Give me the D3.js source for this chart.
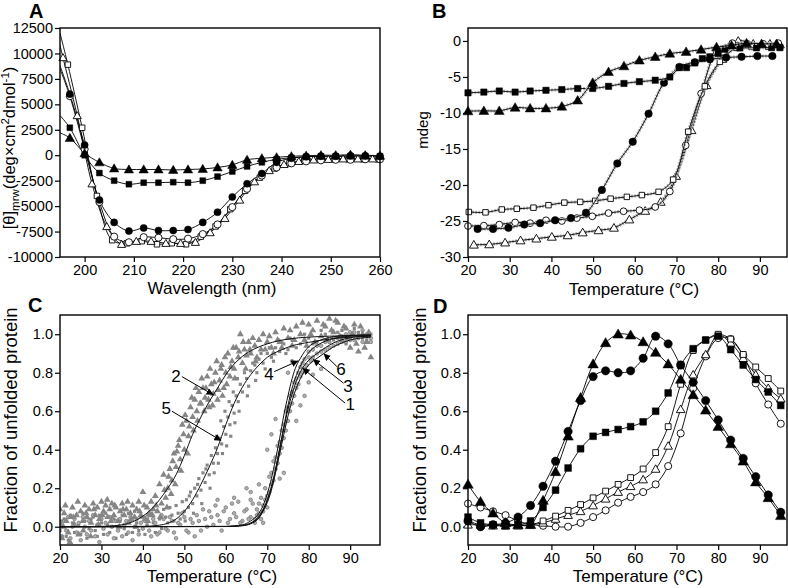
<!DOCTYPE html>
<html><head><meta charset="utf-8">
<script src="https://cdn.jsdelivr.net/npm/d3@7"></script>
<style>
body{margin:0;background:#fff}
svg{display:block}
text{font-family:'Liberation Sans',Arial,Helvetica,sans-serif;fill:#000}
.tick text{font-family:'Liberation Sans Narrow','Liberation Sans',Arial,sans-serif;font-size:14.5px}
</style></head><body>
<svg id="c" width="788" height="588"></svg>
<script>
// ---------------- Panel A : far-UV CD spectra ----------------
const A_xTicks = [200,210,220,230,240,250,260];
const A_yTicks = [-10000,-7500,-5000,-2500,0,2500,5000,7500,10000,12500];
const A_wl = [195,197,200,203,206,209,212,215,218,221,224,227,230,233,236,239,242,245,248,251,254,257,260];
const A_filledTri  = [2200,1700,200,-700,-1300,-1400,-1400,-1400,-1450,-1400,-1350,-1200,-950,-450,-300,-200,-100,-50,0,0,50,0,-50];
const A_filledSq   = [3900,2700,0,-1750,-2500,-2850,-2700,-2700,-2650,-2700,-2500,-2100,-1600,-1100,-700,-400,-250,-150,-100,-100,-100,-100,-100];
const A_filledCirc = [8800,6000,1000,-4400,-6600,-7450,-7150,-7400,-7400,-7300,-6600,-5600,-4100,-2800,-1800,-700,-300,-150,-100,-100,-50,-50,-100];
const A_openCirc   = [8500,5800,600,-4600,-8000,-8550,-8050,-8100,-8250,-8200,-7750,-6800,-5100,-3300,-2000,-1200,-800,-600,-500,-450,-450,-400,-400];
const A_wlTri = [195,195.6,198.5,201.5,204.5,207.5,210.5,213.5,216.5,219.5,222.5,225.5,228.5,231.5,234.5,237.5,240.5,243.5,246.5,249.5,252.5,255.5,258.5];
const A_openTri    = [10800,9600,3900,-2800,-7000,-8750,-8450,-8450,-8650,-8650,-8550,-7600,-6200,-4400,-2600,-1500,-900,-600,-450,-400,-350,-350,-350];
const A_wlSq = [195,196.6,199.5,202.5,205.6,208.6,211.6,214.7,217.7,220.6,223.6,226.6,229.6,232.6,235.6,238.6,241.6,244.6,247.6,250.6,253.6,256.6,259.6];
const A_openSq     = [12000,8900,2700,-4000,-8350,-8650,-8450,-8750,-8650,-8750,-8000,-7000,-5300,-3500,-2200,-1300,-800,-550,-450,-400,-400,-400,-400];

// ---------------- Panel B : thermal melts (mdeg) ----------------
const B_xTicks = [20,30,40,50,60,70,80,90];
const B_yTicks = [-30,-25,-20,-15,-10,-5,0];
const B_sqF_T = [20,23.8,27.5,31.3,34.9,38.7,42.5,46.3,49.9,53.7,57.4,61.1,64.9,68.4,70.7,72.4,74.4,76.2,78,80,81.6,85.2,89.2,92.8,94.8];
const B_sqF   = [-7.2,-7.1,-6.95,-7.1,-6.95,-6.85,-6.75,-6.6,-6.6,-6.3,-5.9,-5.65,-5.45,-5.0,-3.7,-3.7,-3.05,-2.45,-2.2,-1.75,-1.15,-0.97,-0.95,-0.93,-0.93];
const B_triF_T = [20,23.8,27.5,31.3,34.9,38.7,42.5,46.3,49.9,53.7,57.4,61.1,64.9,68.4,72.3,75.9,79.6,83.2,86.8,90.4,94];
const B_triF   = [-9.75,-9.7,-9.7,-9.25,-9.35,-9.35,-9.1,-8.25,-5.8,-4.3,-3.5,-2.7,-2.2,-1.75,-1.5,-1.2,-0.85,-0.6,-0.3,-0.4,-0.4];
const B_circF_T = [22.3,26,29.7,33.5,37.3,40.9,44.7,48.3,52.1,55.8,59.5,63.3,67,70.7,74.4,78,81.9,85.6,89.4,93];
const B_circF   = [-26.1,-26.1,-25.95,-25.5,-25.3,-24.9,-24.6,-23.85,-20.7,-17.0,-14.0,-10.1,-5.8,-3.6,-2.95,-2.55,-2.3,-2.2,-2.1,-2.1];
const B_sqO_T = [20.2,24.2,28.1,31.7,35.7,39.3,43.1,46.9,50.5,54.2,58.1,61.7,65.7,69.2,72.8,76.8,80.4,84.4,88,92,94.8];
const B_sqO   = [-23.75,-23.8,-23.4,-23.3,-23.15,-22.8,-22.45,-22.35,-22.2,-21.9,-21.65,-21.4,-20.95,-19.25,-12.6,-6.3,-2.9,-0.97,-0.83,-0.8,-0.85];
const B_circO_T = [20,23.8,27.5,31.3,34.9,38.7,42.5,46.1,49.8,53.7,57.3,61.1,64.9,68.4,72.2,75.9,79.6,83.4,87,90.8,94.4];
const B_circO   = [-25.7,-25.65,-25.5,-25.2,-25.3,-24.9,-25.0,-24.6,-24.35,-23.9,-23.65,-23.5,-23.05,-20.9,-14.5,-7.3,-1.5,-0.3,-0.4,-0.4,-0.3];
const B_triO_T = [21.4,25.1,28.9,32.6,36.4,40.1,43.9,47.5,51.3,55,58.7,62.5,66.2,69.9,73.6,77.2,81,84.8,88.4,92.4,94.8];
const B_triO   = [-28.3,-28.25,-28.0,-27.7,-27.45,-27.2,-27.0,-26.6,-26.3,-25.95,-24.8,-23.6,-22.35,-18.75,-12.4,-6.15,-2.5,0.0,-0.4,-0.4,-0.5];

// ---------------- Panel C : fraction unfolded, raw + fits ----------------
const C_xTicks = [20,30,40,50,60,70,80,90];
const C_yTicks = [0,0.2,0.4,0.6,0.8,1.0];
const C_tri2 = [[20,0.02],[20.5,-0.06],[21,0.07],[21.5,0.03],[22,-0.03],[22.5,0.05],[23,0.1],[23.5,0.01],[24,0.06],[24.5,-0.04],[25,0.08],[25.5,0.03],[26,0.11],[26.5,0.05],[27,0.09],[27.5,0.02],[28,0.12],[28.5,0.06],[29,0.1],[29.5,0.04],[30,0.13],[30.5,0.08],[31,0.11],[31.5,0.05],[32,0.09],[32.5,0.12],[33,0.06],[33.5,0.1],[34,0.03],[34.5,0.08],[35,0.12],[35.5,0.06],[36,0.09],[36.5,0.02],[37,0.07],[37.5,0.11],[38,0.05],[38.5,0.09],[39,0.13],[39.5,0.06],[40,0.18],[40.5,0.04],[41,0.1],[41.5,0.07],[42,0.13],[42.5,0.09],[43,0.16],[43.5,0.08],[44,0.22],[44.5,0.12],[45,0.27],[45.5,0.15],[46,0.2],[46.5,0.3],[47,0.24],[47.5,0.38],[48,0.31],[48.5,0.42],[49,0.35],[49.5,0.53],[50,0.4],[50.5,0.55],[51,0.47],[51.5,0.62],[52,0.57],[52.5,0.66],[53,0.6],[53.5,0.7],[54,0.64],[54.5,0.72],[55,0.67],[55.5,0.78],[56,0.62],[56.5,0.74],[57,0.69],[57.5,0.8],[58,0.66],[58.5,0.76],[59,0.84],[59.5,0.72],[60,0.8],[60.5,0.9],[61,0.78],[61.5,0.86],[62,0.82],[62.5,0.93],[63,0.88],[63.5,1.0],[64,0.85],[64.5,0.92],[65,0.89],[65.5,0.96],[66,0.9],[67,0.94],[67.5,0.88],[68,0.97],[69,1.0],[69.5,0.92],[70,0.96],[71,0.93],[72,1.01],[73,0.96],[74,1.03],[75,0.98],[76,0.94],[77,1.04],[78,1.0],[79,0.97],[80,1.05],[81,1.02],[82,1.07],[83,0.99],[84,1.04],[85,1.08],[86,1.01],[87,1.06],[88,0.97],[89,1.03],[90,0.93],[91,1.05],[92,0.91],[93,1.0],[94,0.96],[95,0.88],
 [20,0.09],[20.8,0.0],[21.3,0.11],[22.4,-0.08],[23.2,0.05],[24.3,0.13],[25.6,-0.02],[26.3,0.07],[27.4,-0.05],[28.2,0.09],[29.3,0.01],[30.2,0.06],[31.4,0.14],[32.3,0.03],[33.2,0.11],[34.3,0.0],[35.2,0.09],[36.3,0.13],[37.2,0.04],[38.3,0.0],[39.2,0.08],[40.3,0.11],[41.2,0.03],[42.3,0.06],[43.2,0.11],[44.2,0.05],[45.2,0.19],[45.8,0.1],[46.2,0.26],[46.8,0.17],[47.2,0.34],[47.8,0.22],[48.2,0.39],[48.8,0.45],[49.2,0.29],[49.8,0.48],[50.2,0.58],[50.8,0.38],[51.2,0.52],[51.8,0.67],[52.2,0.5],[52.8,0.72],[53.2,0.55],[53.8,0.64],[54.2,0.77],[54.8,0.6],[55.2,0.72],[55.8,0.66],[56.2,0.82],[56.8,0.63],[57.2,0.75],[57.8,0.86],[58.2,0.71],[58.8,0.82],[59.2,0.68],[59.8,0.88],[60.2,0.74],[61.2,0.83],[61.8,0.93],[62.2,0.77],[63.2,0.91],[64.2,0.96],[64.8,0.82],[65.8,0.92],[66.5,0.98],[67.2,0.86],[68.5,0.92],[70.5,0.99],[71.5,0.9],[72.5,0.97],[73.5,0.93],[75.5,1.02],[76.5,0.97],[78.5,1.06],[79.5,0.94],[80.5,1.0],[81.5,0.96],[83.5,1.05],[84.5,0.97],[85.5,1.02],[86.5,1.07],[87.5,0.99],[88.5,1.04],[89.5,0.98],[90.5,1.0],[91.5,0.95],[92.5,1.04],[93.5,0.93],[94.5,1.01]];
const C_dot5 = [[20,-0.02],[21,0.04],[22,-0.07],[23,0.02],[24,0.06],[25,-0.04],[26,0.03],[27,-0.01],[28,0.05],[29,-0.05],[30,0.02],[31,0.07],[32,-0.03],[33,0.04],[34,0.0],[35,0.06],[36,-0.04],[37,0.03],[38,0.08],[39,-0.02],[40,0.05],[41,0.01],[42,0.07],[43,-0.03],[44,0.04],[45,0.09],[46,0.02],[47,0.06],[48,0.11],[49,0.04],[50,0.08],[50.5,0.14],[51,0.1],[51.5,0.18],[52,0.12],[52.5,0.2],[53,0.16],[53.5,0.25],[54,0.19],[54.5,0.28],[55,0.23],[55.5,0.32],[56,0.27],[56.5,0.37],[57,0.33],[57.5,0.41],[58,0.38],[58.5,0.46],[59,0.43],[59.5,0.52],[60,0.48],[60.5,0.57],[61,0.53],[61.5,0.63],[62,0.59],[62.5,0.68],[63,0.65],[63.5,0.74],[64,0.7],[65,0.77],[65.5,0.73],[66,0.81],[67,0.84],[67.5,0.8],[68,0.87],[69,0.85],[70,0.9],[71,0.88],[72,0.93],[73,0.91],[74,0.95],[75,0.92],[76,0.97],[78,0.95],[80,0.98],[82,0.96],[84,1.0],[86,0.97],[88,1.02],[90,0.98],[92,1.01],[94,0.97],
 [20.5,0.03],[21.5,-0.05],[22.5,0.06],[23.5,-0.03],[24.5,0.01],[25.5,0.07],[26.5,-0.06],[27.5,0.04],[28.5,-0.02],[29.5,0.06],[30.5,-0.04],[31.5,0.01],[32.5,0.05],[33.5,-0.06],[34.5,0.03],[35.5,-0.01],[36.5,0.07],[37.5,-0.03],[38.5,0.02],[39.5,0.05],[40.5,-0.04],[41.5,0.06],[42.5,0.02],[43.5,0.08],[44.5,-0.01],[45.5,0.05],[46.5,0.1],[47.5,0.03],[48.5,0.07],[49.5,0.13],[50.2,0.03],[51.2,0.16],[52.2,0.07],[53.2,0.22],[54.2,0.12],[55.2,0.3],[56.2,0.2],[57.2,0.28],[57.8,0.47],[58.2,0.33],[58.8,0.55],[59.2,0.38],[59.8,0.6],[60.2,0.42],[60.8,0.65],[61.2,0.47],[61.8,0.7],[62.2,0.54],[62.8,0.77],[63.2,0.6],[64.5,0.8],[65.2,0.68],[66.5,0.85],[67.2,0.76],[68.5,0.9],[69.5,0.82],[70.5,0.93],[71.5,0.86],[73.5,0.96],[74.5,0.9],[75.5,0.98],[77,0.93],[79,1.0],[81,0.95],[83,1.02],[85,0.96],[87,1.01],[89,0.95],[91,1.03],[93,0.98],[95,1.0]];
const C_dotSteep = [[20,0.01],[20.5,-0.05],[21,0.03],[21.5,-0.02],[22,0.05],[22.5,-0.06],[23,0.0],[23.5,0.04],[24,-0.03],[24.5,0.02],[25,-0.07],[25.5,0.05],[26,0.0],[26.5,-0.04],[27,0.03],[27.5,-0.02],[28,0.06],[28.5,-0.05],[29,0.01],[29.5,-0.08],[30,0.04],[30.5,-0.01],[31,0.02],[31.5,-0.04],[32,0.05],[32.5,0.0],[33,-0.06],[33.5,0.03],[34,-0.02],[34.5,0.04],[35,-0.05],[35.5,0.01],[36,0.03],[36.5,-0.03],[37,0.05],[37.5,-0.07],[38,0.0],[38.5,0.04],[39,-0.04],[39.5,0.02],[40,-0.01],[41,0.05],[42,-0.05],[43,0.02],[44,-0.03],[45,0.04],[46,-0.02],[47,0.03],[48,-0.06],[49,0.01],[50,0.05],[51,-0.03],[52,0.02],[53,0.06],[54,-0.02],[55,0.04],[56,0.08],[57,0.01],[58,0.06],[59,-0.02],[60,0.1],[61,0.04],[62,0.07],[63,0.13],[64,0.03],[65,0.09],[65,0.2],[66,0.05],[66.5,0.12],[67,0.04],[67.5,0.09],[68,0.07],[68.5,0.15],[69,0.11],[69,0.02],[69.5,0.2],[70,0.16],[70,0.4],[70.5,0.26],[71,0.22],[71.5,0.34],[72,0.3],[72,0.56],[72.5,0.42],[73,0.38],[73.5,0.5],[74,0.46],[74,0.28],[74.5,0.6],[75,0.55],[75.5,0.68],[76,0.64],[76,0.86],[76.5,0.75],[77,0.72],[77.5,0.8],[78,0.78],[78,0.63],[78.5,0.85],[79,0.82],[80,0.88],[80.5,0.86],[81,0.92],[82,0.9],[83,0.94],[84,0.92],[85,0.96],[86,0.94],[87,0.98],[88,0.96],[89,1.0],[90,0.97],[91,1.01],[92,0.98],[93,1.02],[94,0.99],[95,0.96],
 [40.5,0.03],[41.5,-0.02],[42.5,0.04],[43.5,-0.04],[44.5,0.06],[45.5,-0.01],[46.5,0.05],[47.5,-0.03],[48.5,0.02],[49.5,0.07],[50.5,-0.02],[51.5,0.04],[52.5,-0.05],[53.5,0.03],[54.5,0.09],[55.5,0.0],[56.5,0.05],[57.5,0.11],[58.5,0.03],[59.5,0.08],[60.5,0.02],[61.5,0.12],[62.5,0.05],[63.5,0.02],[64.5,0.08],[65.5,0.04],[66,0.14],[67,0.02],[67.5,0.06],[68,0.12],[68.5,0.04],[69,0.08],[69.5,0.14],[70,0.1],[70.5,0.18],[71,0.28],[71.5,0.24],[72,0.36],[72.5,0.33],[73,0.44],[73.5,0.41],[74,0.53],[74.5,0.5],[75,0.62],[75.5,0.6],[76,0.7],[76.5,0.68],[77,0.77],[77.5,0.74],[78,0.83],[78.5,0.8],[79,0.87],[79.5,0.84],[80,0.91],[81,0.88],[82,0.94],[83,0.91],[84,0.96],[85,0.93],[86,0.98],[87,0.95],[88,0.99],[89,0.96],[90,1.01],[91,0.97],[92,0.99],[93,0.96],[94,1.0],[95,0.98],[71,0.48],[73,0.25],[75,0.8],[77,0.55],[79,0.68],[80,0.75],[68,0.22],[66,0.18],[62,0.15],[58,0.14],[81,0.79],[83,0.82]];
const C_fit2_T = [20,30,35,38,40,42,44,46,48,50,52,54,56,58,60,62,64,67,70,75,80,85,90,95];
const C_fit2   = [0,0.002,0.01,0.03,0.055,0.09,0.14,0.2,0.27,0.37,0.48,0.57,0.65,0.72,0.79,0.845,0.885,0.925,0.95,0.975,0.985,0.99,0.993,0.995];
const C_fit5_T = [20,40,44,46,48,50,52,54,56,58,60,62,64,66,68,70,73,76,80,85,90,95];
const C_fit5   = [0,0.002,0.008,0.018,0.04,0.08,0.14,0.22,0.31,0.41,0.53,0.64,0.725,0.79,0.84,0.88,0.915,0.94,0.958,0.975,0.985,0.99];
const C_steep_T = [20,60,64,66,68,69,70,71,72,73,74,75,76,77,78,79,80,82,84,86,88,90,95];
const C_fit4 = [0,0.002,0.01,0.03,0.07,0.11,0.17,0.25,0.35,0.46,0.58,0.68,0.77,0.835,0.875,0.91,0.935,0.962,0.978,0.987,0.992,0.995,0.997];
const C_fit1 = [0,0.001,0.007,0.02,0.055,0.09,0.14,0.21,0.3,0.41,0.52,0.63,0.72,0.785,0.835,0.875,0.905,0.942,0.964,0.978,0.986,0.99,0.995];
const C_fit3 = [0,0.001,0.006,0.018,0.05,0.085,0.135,0.2,0.29,0.4,0.51,0.61,0.69,0.755,0.805,0.84,0.865,0.9,0.93,0.955,0.972,0.982,0.992];
const C_fit6 = [0,0.001,0.005,0.015,0.045,0.08,0.125,0.19,0.28,0.38,0.48,0.575,0.655,0.72,0.77,0.81,0.84,0.875,0.905,0.935,0.955,0.97,0.985];
// label: [text, textT, textV, fromT, fromV, tipT, tipV]
const C_labels = [["2",48,0.75,49.4,0.78,57,0.685],["5",45.6,0.586,47,0.6,58.9,0.447],["4",70.4,0.763,71.7,0.806,77.5,0.862],["6",87.8,0.79,86.8,0.832,83.6,0.9],["3",89.5,0.70,88.4,0.746,81,0.87],["1",90,0.607,88.8,0.642,78.5,0.824]];

// ---------------- Panel D ----------------
const D_xTicks = [20,30,40,50,60,70,80,90];
const D_yTicks = [0,0.2,0.4,0.6,0.8,1.0];
const D_T = [20,23,26,29,32,35,38,41,44,47,50,53,56,59,62,65,68,71,74,77,80,83,86,89,92,95];
const D_triF  = [0.22,0.13,0.07,0.02,0.01,0.01,0.136,0.285,0.47,0.67,0.845,0.955,1.0,0.995,0.96,0.905,0.845,0.765,0.685,0.605,0.52,0.43,0.34,0.232,0.15,0.057];
const D_circF = [0.03,0.0,0.01,0.02,0.05,0.11,0.21,0.34,0.495,0.655,0.78,0.81,0.80,0.81,0.875,0.99,0.95,0.84,0.75,0.655,0.555,0.45,0.355,0.26,0.165,0.075];
const D_sqF   = [0.05,0.02,0.01,0.005,0.01,0.03,0.10,0.19,0.305,0.405,0.47,0.49,0.505,0.52,0.545,0.60,0.695,0.84,0.925,0.97,0.99,0.92,0.84,0.765,0.70,0.63];
const D_sqO   = [0.03,0.01,0.01,0.01,0.01,0.01,0.03,0.055,0.085,0.115,0.15,0.185,0.22,0.255,0.30,0.385,0.52,0.74,0.915,0.97,1.0,0.975,0.895,0.83,0.77,0.705];
const D_triO  = [0.01,0.01,0.005,0.005,0.005,0.01,0.02,0.04,0.06,0.08,0.11,0.145,0.18,0.21,0.245,0.30,0.42,0.61,0.79,0.895,0.995,0.955,0.875,0.79,0.72,0.665];
const D_circO = [0.12,0.10,0.08,0.06,0.03,0.012,0.005,0.0,0.0,0.02,0.05,0.085,0.125,0.155,0.18,0.22,0.315,0.485,0.72,0.885,0.98,0.975,0.89,0.745,0.635,0.535];

// ================= drawing =================
const svg = d3.select("#c");
const defs = svg.append("defs");
defs.append("marker").attr("id","arr").attr("viewBox","0 0 10 10").attr("refX",10).attr("refY",5)
  .attr("markerWidth",7).attr("markerHeight",7).attr("markerUnits","userSpaceOnUse").attr("orient","auto")
  .append("path").attr("d","M0,0L10,5L0,10z").attr("fill","#000");

let clipN = 0;
function makePanel(o){
  const x = d3.scaleLinear().domain(o.xd).range([o.l,o.r]);
  const y = d3.scaleLinear().domain(o.yd).range([o.b,o.t]);
  const g = svg.append("g");
  const id = "clip"+(clipN++);
  defs.append("clipPath").attr("id",id).append("rect")
    .attr("x",o.l).attr("y",o.t).attr("width",o.r-o.l).attr("height",o.b-o.t);
  g.append("g").attr("transform",`translate(0,${o.b})`)
    .call(d3.axisBottom(x).tickValues(o.xt).tickSize(5).tickSizeOuter(0).tickPadding(3).tickFormat(d=>String(d)));
  g.append("g").attr("transform",`translate(${o.l},0)`)
    .call(d3.axisLeft(y).tickValues(o.yt).tickSize(5).tickSizeOuter(0).tickPadding(2).tickFormat(o.yf||(d=>String(d))));
  g.selectAll(".domain").remove();
  g.selectAll(".tick line").attr("stroke","#000").attr("stroke-width",1.2);
  const plot = g.append("g");
  const clipped = plot.append("g").attr("clip-path",`url(#${id})`);
  g.append("rect").attr("x",o.l).attr("y",o.t).attr("width",o.r-o.l).attr("height",o.b-o.t)
    .attr("fill","none").attr("stroke","#000").attr("stroke-width",1.4);
  g.append("text").attr("x",o.lx).attr("y",o.ly).attr("font-size",20).attr("font-weight","bold").text(o.letter);
  g.append("text").attr("x",o.xtx).attr("y",o.xty).attr("text-anchor","middle").attr("font-size",17).text(o.xtitle);
  return {x,y,g,plot,clipped};
}

const symMap = {circle:d3.symbolCircle, square:d3.symbolSquare, triangle:d3.symbolTriangle};
function series(p, xs, ys, shape, filled, opt){
  opt = opt||{};
  const pts = xs.map((t,i)=>[p.x(t), p.y(ys[i])]);
  const line = d3.line().curve(d3.curveCatmullRom.alpha(0.5));
  const tgt = opt.clip ? p.clipped : p.plot;
  if(opt.noise){
    tgt.append("path").attr("d",line(pts)).attr("fill","none").attr("stroke","#b5b5b5").attr("stroke-width",3.2).attr("stroke-dasharray","2,1.2");
  }
  tgt.append("path").attr("d",line(pts)).attr("fill","none").attr("stroke","#000").attr("stroke-width",opt.lw||0.9);
  const start = opt.skipFirst ? 1 : 0;
  const s = opt.size||40;
  p.plot.append("g").selectAll("path").data(pts.slice(start)).join("path")
    .attr("transform",d=>`translate(${d[0]},${d[1] + (shape==="triangle"?0.8:0)})`)
    .attr("d",d3.symbol().type(symMap[shape]).size(shape==="triangle"? s*0.95 : s))
    .attr("fill",filled?"#000":"#fff").attr("stroke","#000").attr("stroke-width",filled?0.5:0.9);
}

// ---- Panel A ----
const pA = makePanel({l:60,r:380,t:28,b:257,xd:[195,260],yd:[-10000,12500],xt:A_xTicks,yt:A_yTicks,
  letter:"A",lx:29,ly:18,xtitle:"Wavelength (nm)",xtx:212,xty:294});
series(pA,A_wlSq,A_openSq,"square",false,{skipFirst:true,clip:true,size:30});
series(pA,A_wlTri,A_openTri,"triangle",false,{skipFirst:true,clip:true,size:30});
series(pA,A_wl,A_openCirc,"circle",false,{skipFirst:true,clip:true,size:40});
series(pA,A_wl,A_filledCirc,"circle",true,{skipFirst:true,clip:true,size:40});
series(pA,A_wl,A_filledSq,"square",true,{skipFirst:true,clip:true,size:34});
series(pA,A_wl,A_filledTri,"triangle",true,{skipFirst:true,clip:true,size:40});
{
  const t = pA.g.append("text").attr("transform","translate(15,148) rotate(-90)").attr("text-anchor","middle").attr("font-size",16.5);
  t.append("tspan").text("[θ]");
  t.append("tspan").attr("font-size",11.5).attr("dy",4).text("mrw");
  t.append("tspan").attr("dy",-4).text("(deg×cm");
  t.append("tspan").attr("font-size",11.5).attr("dy",-6).text("2");
  t.append("tspan").attr("dy",6).text("dmol");
  t.append("tspan").attr("font-size",11.5).attr("dy",-6).text("-1");
  t.append("tspan").attr("dy",6).text(")");
}

// ---- Panel B ----
const pB = makePanel({l:468,r:787,t:28,b:257,xd:[20,96.5],yd:[-30,1.8],xt:B_xTicks,yt:B_yTicks,
  letter:"B",lx:432,ly:18,xtitle:"Temperature (°C)",xtx:634,xty:295});
series(pB,B_triO_T,B_triO,"triangle",false,{noise:true,size:36});
series(pB,B_circO_T,B_circO,"circle",false,{noise:true,size:36});
series(pB,B_sqO_T,B_sqO,"square",false,{noise:true,size:30});
series(pB,B_circF_T,B_circF,"circle",true,{noise:true,size:44});
series(pB,B_sqF_T,B_sqF,"square",true,{noise:true,size:40});
series(pB,B_triF_T,B_triF,"triangle",true,{noise:true,size:44});
pB.g.append("text").attr("transform","translate(428,130) rotate(-90)").attr("text-anchor","middle").attr("font-size",15)
  .style("font-family","'Liberation Sans Narrow','Liberation Sans',Arial,sans-serif").text("mdeg");

// ---- Panel C ----
const pC = makePanel({l:60,r:380,t:315,b:545,xd:[20,97.2],yd:[-0.095,1.1],xt:C_xTicks,yt:C_yTicks,yf:d3.format(".1f"),
  letter:"C",lx:28,ly:312,xtitle:"Temperature (°C)",xtx:212,xty:582});
const gray = "#858585";
pC.clipped.append("g").selectAll("path").data(C_dot5).join("path")
  .attr("transform",d=>`translate(${pC.x(d[0])},${pC.y(d[1])})`)
  .attr("d",d3.symbol().type(d3.symbolSquare).size(10)).attr("fill",gray);
pC.clipped.append("g").selectAll("circle").data(C_dotSteep).join("circle")
  .attr("cx",d=>pC.x(d[0])).attr("cy",d=>pC.y(d[1])).attr("r",1.8)
  .attr("fill","#b0b0b0").attr("stroke","#6f6f6f").attr("stroke-width",0.7);
pC.clipped.append("g").selectAll("path").data(C_tri2).join("path")
  .attr("transform",d=>`translate(${pC.x(d[0])},${pC.y(d[1])})`)
  .attr("d",d3.symbol().type(d3.symbolTriangle).size(20)).attr("fill",gray);
function fit(xs,ys){
  const pts = xs.map((t,i)=>[pC.x(t),pC.y(ys[i])]);
  pC.clipped.append("path").attr("d",d3.line().curve(d3.curveMonotoneX)(pts))
    .attr("fill","none").attr("stroke","#111").attr("stroke-width",1);
}
fit(C_fit2_T,C_fit2); fit(C_fit5_T,C_fit5);
fit(C_steep_T,C_fit4); fit(C_steep_T,C_fit1); fit(C_steep_T,C_fit3); fit(C_steep_T,C_fit6);
const lab = pC.plot.append("g");
C_labels.forEach(L=>{
  lab.append("text").attr("x",pC.x(L[1])).attr("y",pC.y(L[2])).attr("text-anchor","middle").attr("font-size",17).text(L[0]);
  lab.append("line").attr("x1",pC.x(L[3])).attr("y1",pC.y(L[4])).attr("x2",pC.x(L[5])).attr("y2",pC.y(L[6]))
    .attr("stroke","#000").attr("stroke-width",1).attr("marker-end","url(#arr)");
});
pC.g.append("text").attr("transform","translate(17,420) rotate(-90)").attr("text-anchor","middle").attr("font-size",18.5).text("Fraction of unfolded protein");

// ---- Panel D ----
const pD = makePanel({l:468,r:787,t:315,b:545,xd:[20,96.5],yd:[-0.095,1.1],xt:D_xTicks,yt:D_yTicks,yf:d3.format(".1f"),
  letter:"D",lx:433,ly:313,xtitle:"Temperature (°C)",xtx:638,xty:582});
series(pD,D_T,D_circO,"circle",false,{size:40});
series(pD,D_T,D_triO,"triangle",false,{size:34});
series(pD,D_T,D_sqO,"square",false,{size:34});
series(pD,D_T,D_sqF,"square",true,{size:46});
series(pD,D_T,D_circF,"circle",true,{size:55});
series(pD,D_T,D_triF,"triangle",true,{size:50});
pD.g.append("text").attr("transform","translate(426,420) rotate(-90)").attr("text-anchor","middle").attr("font-size",18.5).text("Fraction of unfolded protein");
</script>
</body></html>
